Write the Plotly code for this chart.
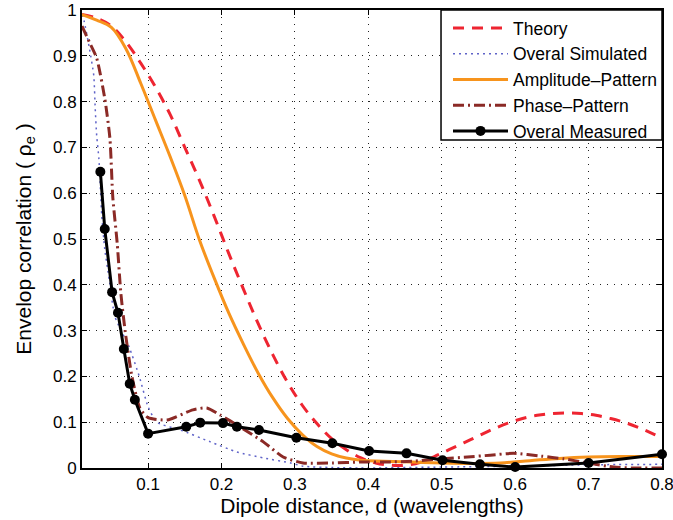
import plotly.graph_objects as go

# Theory
theory_x = [0.01, 0.03, 0.05, 0.07, 0.09, 0.11, 0.13, 0.15, 0.17, 0.19, 0.21, 0.23, 0.25, 0.27, 0.29, 0.31,
            0.33, 0.35, 0.37, 0.39, 0.41, 0.43, 0.45, 0.47, 0.49, 0.51, 0.53, 0.55, 0.57, 0.59, 0.61, 0.63,
            0.65, 0.67, 0.69, 0.71, 0.73, 0.75, 0.77, 0.79, 0.80]
theory_y = [0.99, 0.982, 0.965, 0.93, 0.884, 0.832, 0.772, 0.70, 0.628, 0.55, 0.468, 0.39, 0.315, 0.247, 0.187, 0.137,
            0.097, 0.064, 0.04, 0.022, 0.011, 0.006, 0.006, 0.012, 0.025, 0.04, 0.055, 0.07, 0.085, 0.098, 0.108, 0.115,
            0.119, 0.12, 0.119, 0.115, 0.108, 0.099, 0.087, 0.073, 0.066]

# Overal Simulated
sim_x = [0.01, 0.013, 0.02, 0.026, 0.028, 0.03, 0.033, 0.037, 0.041, 0.047, 0.055, 0.074, 0.088, 0.1, 0.112,
         0.144, 0.185, 0.221, 0.257, 0.294, 0.311, 0.35, 0.4, 0.5, 0.6, 0.7, 0.8]
sim_y = [0.99, 0.975, 0.917, 0.857, 0.785, 0.726, 0.675, 0.55, 0.478, 0.412, 0.33, 0.265, 0.2, 0.134, 0.1,
         0.083, 0.057, 0.035, 0.022, 0.011, 0.004, 0.001, 0.0, 0.002, 0.004, 0.007, 0.008]

# Amplitude-Pattern
amp_x = [0.01, 0.03, 0.05, 0.07, 0.09, 0.11, 0.13, 0.15, 0.17, 0.19, 0.21, 0.23, 0.25, 0.27, 0.29, 0.31,
         0.33, 0.35, 0.37, 0.39, 0.42, 0.46, 0.50, 0.54, 0.58, 0.62, 0.66, 0.70, 0.75, 0.80]
amp_y = [0.99, 0.978, 0.962, 0.915, 0.84, 0.76, 0.68, 0.595, 0.498, 0.415, 0.338, 0.27, 0.207, 0.153, 0.108, 0.073,
         0.047, 0.031, 0.022, 0.017, 0.015, 0.013, 0.011, 0.010, 0.011, 0.016, 0.021, 0.024, 0.025, 0.025]

# Phase-Pattern
phase_x = [0.01, 0.02, 0.03, 0.041, 0.048, 0.052, 0.058, 0.063, 0.069, 0.078, 0.089, 0.1, 0.126, 0.161, 0.18,
           0.198, 0.225, 0.257, 0.284, 0.311, 0.352, 0.389, 0.426, 0.462, 0.498, 0.535, 0.566, 0.598, 0.635,
           0.666, 0.699, 0.734, 0.76, 0.8]
phase_y = [0.965, 0.93, 0.895, 0.807, 0.72, 0.59, 0.49, 0.38, 0.296, 0.2, 0.13, 0.11, 0.105, 0.127, 0.131,
           0.116, 0.09, 0.057, 0.024, 0.011, 0.011, 0.013, 0.013, 0.015, 0.02, 0.024, 0.028, 0.032, 0.026,
           0.02, 0.011, 0.002, 0.0, 0.0]

# Overal Measured
meas_x = [0.035, 0.041, 0.051, 0.059, 0.067, 0.075, 0.082, 0.1, 0.152, 0.171, 0.202, 0.221, 0.251, 0.302,
          0.351, 0.401, 0.452, 0.501, 0.552, 0.6, 0.7, 0.8]
meas_y = [0.647, 0.522, 0.384, 0.339, 0.26, 0.184, 0.149, 0.075, 0.09, 0.099, 0.098, 0.09, 0.083, 0.066,
          0.054, 0.037, 0.032, 0.017, 0.008, 0.002, 0.011, 0.03]

x_ticks = [0.1, 0.2, 0.3, 0.4, 0.5, 0.6, 0.7, 0.8]
x_labels = ["0.1", "0.2", "0.3", "0.4", "0.5", "0.6", "0.7", "0.8"]
y_ticks = [0, 0.1, 0.2, 0.3, 0.4, 0.5, 0.6, 0.7, 0.8, 0.9, 1.0]
y_labels = ["0", "0.1", "0.2", "0.3", "0.4", "0.5", "0.6", "0.7", "0.8", "0.9", "1"]

FONT = "Liberation Sans, Arial, Helvetica, sans-serif"

fig = go.Figure()
fig.add_trace(go.Scatter(x=theory_x, y=theory_y, mode="lines", name="Theory",
                         line=dict(color="#ee2531", width=3, dash="11px,8px", shape="spline", smoothing=1.0)))
fig.add_trace(go.Scatter(x=sim_x, y=sim_y, mode="lines", name="Overal Simulated",
                         line=dict(color="#5f63c8", width=1.5, dash="2px,4px", shape="spline", smoothing=0.6)))
fig.add_trace(go.Scatter(x=amp_x, y=amp_y, mode="lines", name="Amplitude\u2013Pattern",
                         line=dict(color="#f7941d", width=3, shape="spline", smoothing=1.0)))
fig.add_trace(go.Scatter(x=phase_x, y=phase_y, mode="lines", name="Phase\u2013Pattern",
                         line=dict(color="#8b2a26", width=3, dash="11px,4px,2px,4px", shape="spline", smoothing=0.6)))
fig.add_trace(go.Scatter(x=meas_x, y=meas_y, mode="lines+markers", name="Overal Measured",
                         line=dict(color="black", width=3),
                         marker=dict(symbol="circle", size=10, color="black"),
                         cliponaxis=False))

axis_common = dict(showline=True, linecolor="black", linewidth=1.8, mirror="ticks",
                   ticks="inside", ticklen=5, tickcolor="black",
                   showgrid=True, gridcolor="#222222", gridwidth=1, griddash="1px,6px",
                   zeroline=False, automargin=False, ticklabeloverflow="allow",
                   tickfont=dict(family=FONT, size=17, color="black"))

fig.update_xaxes(range=[0.01, 0.8], tickvals=x_ticks, ticktext=x_labels,
                 title=dict(text="Dipole distance, d (wavelengths)", font=dict(family=FONT, size=21, color="black"),
                            standoff=0),
                 **axis_common)
fig.update_yaxes(range=[0, 1], tickvals=y_ticks, ticktext=y_labels,
                 title=dict(text="Envelop correlation ( \u03c1<sub>e</sub> )", font=dict(family=FONT, size=21, color="black"),
                            standoff=16),
                 **axis_common)

# legend frame
fig.add_shape(type="rect", xref="paper", yref="paper", x0=0.619, x1=1.0, y0=0.716, y1=1.0,
              fillcolor="white", line=dict(color="black", width=1.5), layer="above")

fig.update_layout(
    width=673, height=520,
    margin=dict(l=82, r=11, t=10, b=52),
    plot_bgcolor="white", paper_bgcolor="white",
    font=dict(family=FONT, color="black"),
    legend=dict(x=1, y=1, xanchor="right", yanchor="top",
                bgcolor="rgba(0,0,0,0)", borderwidth=0,
                font=dict(family=FONT, size=17.5, color="black"),
                itemwidth=55, tracegroupgap=0),
    showlegend=True,
)

fig.write_html("out.html", config={"displayModeBar": False},
               post_script="document.body.style.margin='0';document.body.style.overflow='hidden';")
